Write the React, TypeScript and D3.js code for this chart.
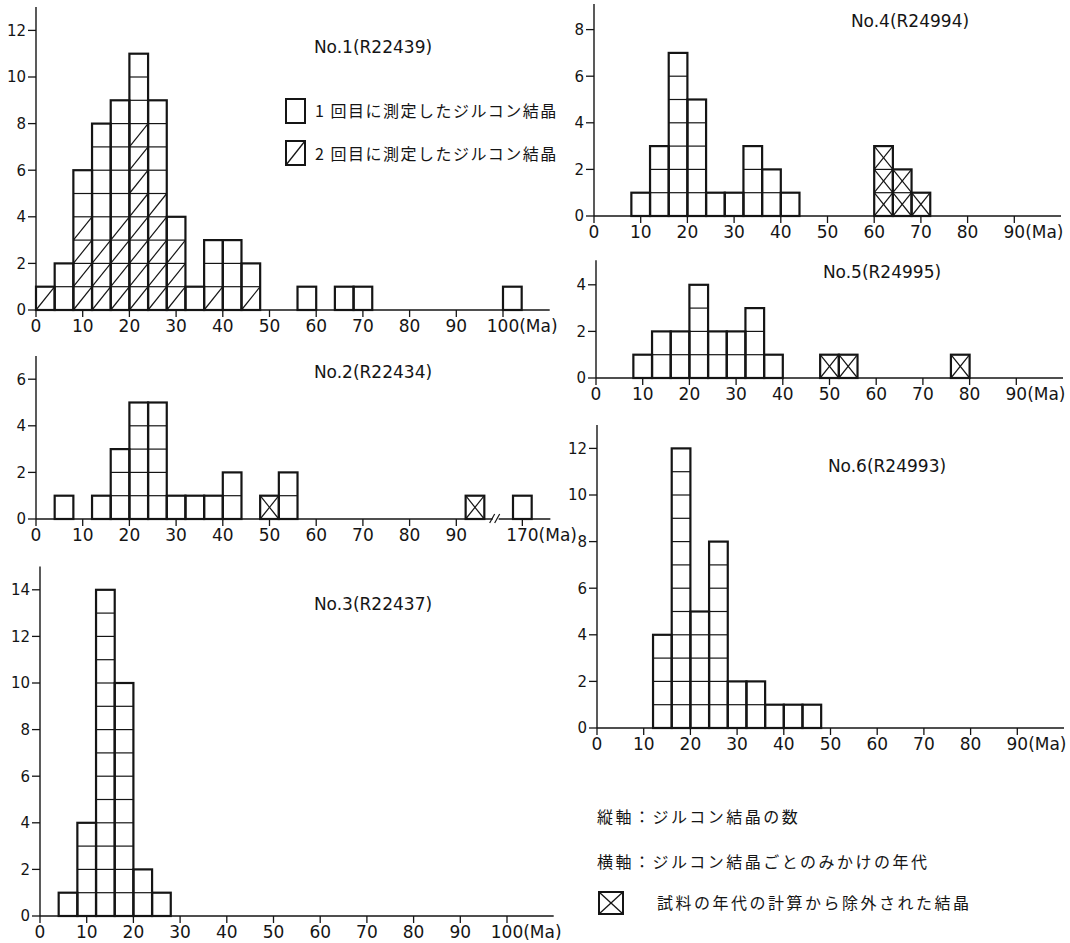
import React from 'react';
import * as d3 from 'd3';

// bin width is 4 Ma, counts are crystals per bin
const BIN = 4;

// No.1 (R22439)
const p1Starts = [0, 4, 8, 12, 16, 20, 24, 28, 32, 36, 40, 44, 56, 64, 68, 100];
const p1Counts = [1, 2, 6, 8, 9, 11, 9, 4, 1, 3, 3, 2, 1, 1, 1, 1];
const p1Second = [1, 0, 4, 3, 4, 8, 5, 3, 0, 1, 0, 1, 0, 0, 0, 0];

// No.2 (R22434)
const p2Starts = [4, 12, 16, 20, 24, 28, 32, 36, 40, 48, 52, 92, 168];
const p2Counts = [1, 1, 3, 5, 5, 1, 1, 1, 2, 1, 2, 1, 1];
const p2Excluded = [0, 0, 0, 0, 0, 0, 0, 0, 0, 1, 0, 1, 0];

// No.3 (R22437)
const p3Starts = [4, 8, 12, 16, 20, 24];
const p3Counts = [1, 4, 14, 10, 2, 1];

// No.4 (R24994)
const p4Starts = [8, 12, 16, 20, 24, 28, 32, 36, 40, 60, 64, 68];
const p4Counts = [1, 3, 7, 5, 1, 1, 3, 2, 1, 3, 2, 1];
const p4Excluded = [0, 0, 0, 0, 0, 0, 0, 0, 0, 3, 2, 1];

// No.5 (R24995)
const p5Starts = [8, 12, 16, 20, 24, 28, 32, 36, 48, 52, 76];
const p5Counts = [1, 2, 2, 4, 2, 2, 3, 1, 1, 1, 1];
const p5Excluded = [0, 0, 0, 0, 0, 0, 0, 0, 1, 1, 1];

// No.6 (R24993)
const p6Starts = [12, 16, 20, 24, 28, 32, 36, 40, 44];
const p6Counts = [4, 12, 5, 8, 2, 2, 1, 1, 1];

const ticksTo100 = [0, 10, 20, 30, 40, 50, 60, 70, 80, 90, 100];
const ticksTo90 = [0, 10, 20, 30, 40, 50, 60, 70, 80, 90];
const ticksBroken = [0, 10, 20, 30, 40, 50, 60, 70, 80, 90, 170];

const legendFirst = '1 回目に測定したジルコン結晶';
const legendSecond = '2 回目に測定したジルコン結晶';
const noteVertical = '縦軸：ジルコン結晶の数';
const noteHorizontal = '横軸：ジルコン結晶ごとのみかけの年代';
const noteExcluded = '試料の年代の計算から除外された結晶';

const K = 4.67; // px per Ma
const U = 23.3; // px per crystal

interface PanelCfg {
  title: string;
  starts: number[];
  counts: number[];
  hatched?: number[];
  excluded?: number[];
  x0: number;
  xDomain: number[];
  base: number;
  yMax: number;
  yTicks: number[];
  xTicks: number[];
  titleX: number;
  titleY: number;
  broken?: boolean;
}

const panels: PanelCfg[] = [
  {
    title: 'No.1(R22439)', starts: p1Starts, counts: p1Counts, hatched: p1Second,
    x0: 36, xDomain: [0, 110], base: 310, yMax: 13, yTicks: d3.range(0, 13, 2),
    xTicks: ticksTo100, titleX: 373, titleY: 53,
  },
  {
    title: 'No.2(R22434)', starts: p2Starts, counts: p2Counts, excluded: p2Excluded,
    x0: 36, xDomain: [0, 98, 164.5, 176], base: 519, yMax: 7, yTicks: [0, 2, 4, 6],
    xTicks: ticksBroken, titleX: 373, titleY: 378, broken: true,
  },
  {
    title: 'No.3(R22437)', starts: p3Starts, counts: p3Counts,
    x0: 40, xDomain: [0, 110], base: 916, yMax: 15, yTicks: d3.range(0, 15, 2),
    xTicks: ticksTo100, titleX: 373, titleY: 610,
  },
  {
    title: 'No.4(R24994)', starts: p4Starts, counts: p4Counts, excluded: p4Excluded,
    x0: 594, xDomain: [0, 100], base: 216, yMax: 9.1, yTicks: [0, 2, 4, 6, 8],
    xTicks: ticksTo90, titleX: 910, titleY: 27,
  },
  {
    title: 'No.5(R24995)', starts: p5Starts, counts: p5Counts, excluded: p5Excluded,
    x0: 596, xDomain: [0, 100], base: 378, yMax: 5.05, yTicks: [0, 2, 4],
    xTicks: ticksTo90, titleX: 882, titleY: 278,
  },
  {
    title: 'No.6(R24993)', starts: p6Starts, counts: p6Counts,
    x0: 597, xDomain: [0, 100], base: 728, yMax: 13, yTicks: d3.range(0, 13, 2),
    xTicks: ticksTo90, titleX: 887, titleY: 472,
  },
];

const INK = '#151515';
const numFont = "'DejaVu Sans', sans-serif";
const jpFont = "'Noto Sans CJK JP', sans-serif";
const XFS = 17;

function Panel({ cfg }: { cfg: PanelCfg }) {
  const d = cfg.xDomain;
  const range = d.length === 2
    ? [cfg.x0, cfg.x0 + (d[1] - d[0]) * K]
    : [cfg.x0, cfg.x0 + d[1] * K, cfg.x0 + d[1] * K + 3, cfg.x0 + d[1] * K + 3 + (d[3] - d[2]) * K];
  const x = d3.scaleLinear().domain(d).range(range);
  const y = d3.scaleLinear().domain([0, cfg.yMax]).range([cfg.base, cfg.base - cfg.yMax * U]);
  const xEnd = range[range.length - 1];
  const axisX = cfg.x0;

  const inner: React.ReactElement[] = [];
  const outlines: React.ReactElement[] = [];
  cfg.starts.forEach((s, i) => {
    const n = cfg.counts[i];
    const x1 = x(s);
    const x2 = x(s + BIN);
    const nh = cfg.hatched ? cfg.hatched[i] : 0;
    const nx = cfg.excluded ? cfg.excluded[i] : 0;
    for (let j = 0; j < n; j++) {
      const yb = y(j);
      const yt = y(j + 1);
      if (j > 0) {
        inner.push(<line key={`h${i}-${j}`} x1={x1} x2={x2} y1={yb} y2={yb} stroke={INK} strokeWidth={1.2} />);
      }
      if (j < nh || j < nx) {
        inner.push(<line key={`d${i}-${j}`} x1={x1} y1={yb} x2={x2} y2={yt} stroke={INK} strokeWidth={1.2} />);
      }
      if (j < nx) {
        inner.push(<line key={`e${i}-${j}`} x1={x1} y1={yt} x2={x2} y2={yb} stroke={INK} strokeWidth={1.2} />);
      }
    }
    outlines.push(
      <rect key={`o${i}`} x={x1} y={y(n)} width={x2 - x1} height={y(0) - y(n)} fill="none" stroke={INK} strokeWidth={2.2} />
    );
  });

  const lastTick = cfg.xTicks[cfg.xTicks.length - 1];
  const labelY = cfg.base + 22;

  return (
    <g>
      {/* axes */}
      <line x1={axisX} x2={axisX} y1={y(cfg.yMax)} y2={cfg.base} stroke={INK} strokeWidth={1.4} />
      <line x1={axisX} x2={xEnd} y1={cfg.base} y2={cfg.base} stroke={INK} strokeWidth={1.4} />
      {cfg.yTicks.map(t => (
        <g key={`yt${t}`}>
          <line x1={axisX - 8} x2={axisX} y1={y(t)} y2={y(t)} stroke={INK} strokeWidth={1.3} />
          <text x={axisX - 10} y={y(t)} dy="0.36em" textAnchor="end" fontSize={15} fontFamily={numFont} fill={INK}>{t}</text>
        </g>
      ))}
      {cfg.xTicks.map(t => {
        const tx = x(t);
        const label = String(t);
        const half = label.length * 0.636 * XFS / 2;
        return (
          <g key={`xt${t}`}>
            <line x1={tx} x2={tx} y1={cfg.base} y2={cfg.base + 7} stroke={INK} strokeWidth={1.3} />
            {t === lastTick ? (
              <text x={tx - half} y={labelY} fontSize={XFS} fontFamily={numFont} fill={INK}>
                {label}<tspan>(Ma)</tspan>
              </text>
            ) : (
              <text x={tx} y={labelY} textAnchor="middle" fontSize={XFS} fontFamily={numFont} fill={INK}>{label}</text>
            )}
          </g>
        );
      })}
      {cfg.broken && (
        <g>
          <rect x={x(98) - 1} y={cfg.base - 2} width={6} height={4} fill="#fff" />
          <line x1={x(98) - 4} y1={cfg.base + 4} x2={x(98) + 1} y2={cfg.base - 5} stroke={INK} strokeWidth={1.2} />
          <line x1={x(98) + 1} y1={cfg.base + 4} x2={x(98) + 6} y2={cfg.base - 5} stroke={INK} strokeWidth={1.2} />
        </g>
      )}
      {inner}
      {outlines}
      <text x={cfg.titleX} y={cfg.titleY} textAnchor="middle" fontSize={17} fontFamily={numFont} fill={INK}>{cfg.title}</text>
    </g>
  );
}

export default function App() {
  return (
    <svg width={1070} height={943} style={{ position: 'absolute', left: 0, top: 0, background: '#fff' }}>
      <rect width={1070} height={943} fill="#fff" />
      {panels.map(p => <Panel key={p.title} cfg={p} />)}

      {/* legend of No.1 */}
      <rect x={286} y={99} width={19} height={24} fill="none" stroke={INK} strokeWidth={2} />
      <text x={315} y={111} dy="0.36em" fontSize={16} letterSpacing={1.5} fontFamily={jpFont} fill={INK}>{legendFirst}</text>
      <rect x={286} y={141} width={19} height={24} fill="none" stroke={INK} strokeWidth={2} />
      <line x1={286} y1={165} x2={305} y2={141} stroke={INK} strokeWidth={1.3} />
      <text x={315} y={154} dy="0.36em" fontSize={16} letterSpacing={1.5} fontFamily={jpFont} fill={INK}>{legendSecond}</text>

      {/* notes */}
      <text x={597} y={817} dy="0.36em" fontSize={16} letterSpacing={2.5} fontFamily={jpFont} fill={INK}>{noteVertical}</text>
      <text x={597} y={862} dy="0.36em" fontSize={16} letterSpacing={2.5} fontFamily={jpFont} fill={INK}>{noteHorizontal}</text>
      <rect x={599} y={892} width={24} height={22} fill="none" stroke={INK} strokeWidth={2} />
      <line x1={599} y1={914} x2={623} y2={892} stroke={INK} strokeWidth={1.3} />
      <line x1={599} y1={892} x2={623} y2={914} stroke={INK} strokeWidth={1.3} />
      <text x={657} y={903} dy="0.36em" fontSize={16} letterSpacing={2.5} fontFamily={jpFont} fill={INK}>{noteExcluded}</text>
    </svg>
  );
}
